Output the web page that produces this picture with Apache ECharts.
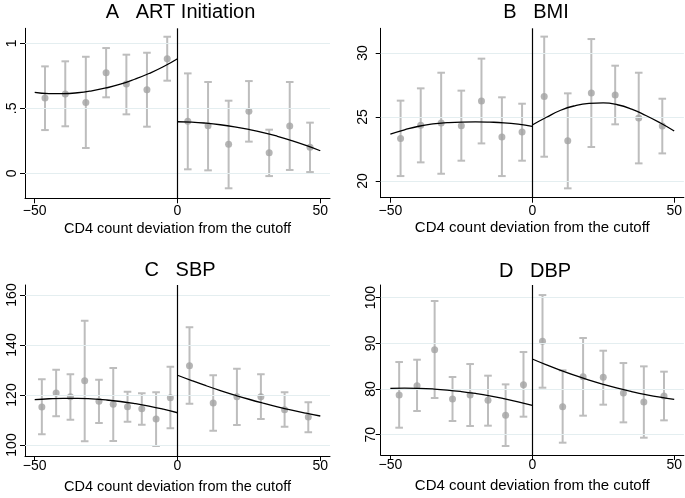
<!DOCTYPE html>
<html><head><meta charset="utf-8">
<script src="https://cdn.jsdelivr.net/npm/echarts@6/dist/echarts.min.js"></script>
<style>html,body{margin:0;padding:0;background:#fff}#c{width:685px;height:498px}</style>
</head><body><div id="c"></div>
<script>
// ---------- shared ----------
const cutoff = 0;
const xTicks = [-50, 0, 50];
const xTickLabels = ['\u221250', '0', '50'];
const xAxisTitle = 'CD4 count deviation from the cutoff';
const fitXLeft = [-50, -45, -40, -35, -30, -25, -20, -15, -10, -5, 0];
const fitXRight = [0, 5, 10, 15, 20, 25, 30, 35, 40, 45, 50];

// ---------- A: ART Initiation ----------
const titleA = 'A   ART Initiation';
const yTicksA = [0, 0.5, 1];
const yTickLabelsA = ['0', '.5', '1'];
const binsALeft = [-46.4, -39.3, -32.1, -25.0, -17.9, -10.7, -3.6];
const binsARight = [3.6, 10.7, 17.9, 25.0, 32.1, 39.3, 46.4];
const meanALeft = [0.579, 0.610, 0.546, 0.774, 0.687, 0.644, 0.882];
const loALeft = [0.333, 0.362, 0.195, 0.585, 0.454, 0.359, 0.713];
const hiALeft = [0.823, 0.862, 0.897, 0.964, 0.913, 0.928, 1.051];
const meanARight = [0.400, 0.367, 0.223, 0.477, 0.159, 0.364, 0.200];
const loARight = [0.031, 0.023, -0.115, 0.244, -0.021, 0.026, 0.010];
const hiARight = [0.769, 0.703, 0.559, 0.710, 0.336, 0.703, 0.390];
const fitALeft = [0.623, 0.614, 0.614, 0.620, 0.635, 0.657, 0.686, 0.724, 0.768, 0.820, 0.882];
const fitARight = [0.397, 0.394, 0.386, 0.374, 0.358, 0.338, 0.314, 0.285, 0.252, 0.215, 0.174];

// ---------- B: BMI ----------
const titleB = 'B   BMI';
const yTicksB = [20, 25, 30];
const yTickLabelsB = ['20', '25', '30'];
const binsBLeft = [-46.4, -39.3, -32.1, -25.0, -17.9, -10.7, -3.6];
const binsBRight = [4.2, 12.5, 20.8, 29.2, 37.5, 45.8];
const meanBLeft = [23.33, 24.35, 24.53, 24.32, 26.25, 23.44, 23.83];
const loBLeft = [20.39, 21.46, 20.57, 21.59, 22.94, 20.39, 21.59];
const hiBLeft = [26.28, 27.24, 28.46, 27.06, 29.56, 26.54, 26.04];
const meanBRight = [26.61, 23.15, 26.88, 26.72, 24.92, 24.30];
const loBRight = [21.90, 19.43, 22.66, 24.43, 21.38, 22.16];
const hiBRight = [31.28, 26.85, 31.09, 29.01, 28.46, 26.43];
const fitBLeft = [23.67, 24.00, 24.28, 24.46, 24.56, 24.61, 24.62, 24.60, 24.55, 24.44, 24.27];
const fitBRight = [24.38, 24.98, 25.53, 25.88, 26.06, 26.10, 25.96, 25.62, 25.12, 24.55, 23.91];

// ---------- C: SBP ----------
const titleC = 'C   SBP';
const yTicksC = [100, 120, 140, 160];
const yTickLabelsC = ['100', '120', '140', '160'];
const binsCLeft = [-47.5, -42.5, -37.5, -32.5, -27.5, -22.5, -17.5, -12.5, -7.5, -2.5];
const binsCRight = [4.2, 12.5, 20.8, 29.2, 37.5, 45.8];
const meanCLeft = [115.2, 120.8, 119.3, 125.7, 117.5, 116.3, 115.3, 114.5, 110.4, 118.9];
const loCLeft = [104.3, 111.5, 110.1, 101.5, 108.8, 101.6, 109.3, 108.1, 99.6, 106.7];
const hiCLeft = [126.3, 130.1, 128.3, 149.7, 126.1, 130.8, 121.3, 120.7, 121.1, 131.3];
const meanCRight = [131.7, 116.8, 119.3, 119.3, 114.1, 111.2];
const loCRight = [116.5, 105.7, 108.0, 110.4, 107.3, 105.1];
const hiCRight = [147.1, 127.9, 130.5, 128.3, 121.1, 117.1];
const fitCLeft = [118.12, 118.50, 118.68, 118.66, 118.44, 118.02, 117.40, 116.57, 115.55, 114.32, 112.9];
const fitCRight = [127.9, 125.75, 123.71, 121.79, 119.99, 118.30, 116.73, 115.27, 113.93, 112.71, 111.6];

// ---------- D: DBP ----------
const titleD = 'D   DBP';
const yTicksD = [70, 80, 90, 100];
const yTickLabelsD = ['70', '80', '90', '100'];
const binsDLeft = [-46.9, -40.6, -34.4, -28.1, -21.9, -15.6, -9.4, -3.1];
const binsDRight = [3.6, 10.7, 17.9, 25.0, 32.1, 39.3, 46.4];
const meanDLeft = [78.69, 80.73, 88.61, 77.81, 78.69, 77.52, 74.23, 80.95];
const loDLeft = [71.53, 75.18, 78.03, 72.99, 71.90, 71.97, 67.52, 73.94];
const hiDLeft = [85.91, 86.42, 99.27, 82.63, 85.47, 82.92, 81.02, 88.10];
const meanDRight = [90.44, 76.13, 82.70, 82.55, 79.12, 77.15, 78.47];
const loDRight = [80.29, 68.25, 74.16, 76.57, 72.70, 69.34, 73.14];
const hiDRight = [100.58, 84.09, 91.17, 88.39, 85.69, 84.96, 83.80];
const fitDLeft = [80.15, 80.20, 80.15, 80.01, 79.78, 79.45, 79.03, 78.52, 77.91, 77.21, 76.41];
const fitDRight = [86.57, 85.28, 84.08, 82.97, 81.95, 81.02, 80.18, 79.44, 78.78, 78.21, 77.74];

// ---------- build ----------
const FONT = 'Liberation Sans, Arial, Helvetica, sans-serif';
const zip = (a, b) => a.map((v, i) => [v, b[i]]);
const zip3 = (a, b, c) => a.map((v, i) => [v, b[i], c[i]]);

function errRender(params, api) {
  const x = api.value(0), lo = api.value(1), hi = api.value(2);
  const p1 = api.coord([x, lo]), p2 = api.coord([x, hi]);
  const hw = 3.8;
  const st = { stroke: '#bdbdbd', lineWidth: 2 };
  return { type: 'group', children: [
    { type: 'line', shape: { x1: p1[0], y1: p1[1], x2: p2[0], y2: p2[1] }, style: st },
    { type: 'line', shape: { x1: p1[0] - hw, y1: p1[1], x2: p1[0] + hw, y2: p1[1] }, style: st },
    { type: 'line', shape: { x1: p2[0] - hw, y1: p2[1], x2: p2[0] + hw, y2: p2[1] }, style: st }
  ]};
}

const panels = [
  { grid: { left: 25, top: 28.3, width: 305, height: 170 }, ymin: -0.192, ymax: 1.116,
    yTicks: yTicksA, yLabels: yTickLabelsA, ym: 6, xm: 6, nameSize: 14.5,
    bl: binsALeft, br: binsARight, ml: meanALeft, mr: meanARight, ll: loALeft, lr: loARight, hl: hiALeft, hr: hiARight,
    fl: fitALeft, fr: fitARight },
  { grid: { left: 380.7, top: 28.3, width: 304.3, height: 169.4 }, ymin: 18.70, ymax: 31.93,
    yTicks: yTicksB, yLabels: yTickLabelsB, ym: 11, xm: 6, nameSize: 15,
    bl: binsBLeft, br: binsBRight, ml: meanBLeft, mr: meanBRight, ll: loBLeft, lr: loBRight, hl: hiBLeft, hr: hiBRight,
    fl: fitBLeft, fr: fitBRight },
  { grid: { left: 25, top: 285, width: 305, height: 171 }, ymin: 95.6, ymax: 164,
    yTicks: yTicksC, yLabels: yTickLabelsC, ym: 6, xm: 3, nameSize: 14.5,
    bl: binsCLeft, br: binsCRight, ml: meanCLeft, mr: meanCRight, ll: loCLeft, lr: loCRight, hl: hiCLeft, hr: hiCRight,
    fl: fitCLeft, fr: fitCRight },
  { grid: { left: 380.7, top: 285, width: 304.3, height: 170 }, ymin: 65.55, ymax: 102.78,
    yTicks: yTicksD, yLabels: yTickLabelsD, ym: 3, xm: 3, nameSize: 15,
    bl: binsDLeft, br: binsDRight, ml: meanDLeft, mr: meanDRight, ll: loDLeft, lr: loDRight, hl: hiDLeft, hr: hiDRight,
    fl: fitDLeft, fr: fitDRight }
];

const option = { animation: false, backgroundColor: '#fff', grid: [], xAxis: [], yAxis: [], series: [],
  graphic: [] };

const titles = [[titleA, 180.5, 12], [titleB, 536, 12], [titleC, 180, 270.5], [titleD, 535, 271.5]];
titles.forEach(t => option.graphic.push({ type: 'text', x: t[1], y: t[2], silent: true,
  style: { text: t[0], font: '20px ' + FONT, fill: '#000', textAlign: 'center', textVerticalAlign: 'middle' } }));

const fitLine = (i, data, extra) => Object.assign({ type: 'line', xAxisIndex: i, yAxisIndex: i, z: 5,
  smooth: 0.5, showSymbol: false,
  lineStyle: { color: '#000', width: 1.3 }, data: data }, extra || {});

panels.forEach((p, i) => {
  option.grid.push(p.grid);
  option.xAxis.push({ type: 'value', gridIndex: i, min: -53.4, max: 53.4,
    name: xAxisTitle, nameLocation: 'middle', nameGap: 23,
    nameTextStyle: { fontFamily: FONT, fontSize: p.nameSize, color: '#000' },
    axisLine: { show: true, onZero: false, lineStyle: { color: '#000', width: 1 } },
    axisTick: { show: true, length: 5, customValues: xTicks, lineStyle: { color: '#000', width: 1 } },
    axisLabel: { customValues: xTicks, margin: p.xm, fontFamily: FONT, fontSize: 14, color: '#000',
      formatter: v => xTickLabels[xTicks.indexOf(v)] },
    splitLine: { show: false } });
  option.yAxis.push({ type: 'value', gridIndex: i, min: p.ymin, max: p.ymax,
    axisLine: { show: true, onZero: false, lineStyle: { color: '#000', width: 1 } },
    axisTick: { show: true, length: 5, customValues: p.yTicks, lineStyle: { color: '#000', width: 1 } },
    axisLabel: { customValues: p.yTicks, rotate: 90, margin: p.ym, fontFamily: FONT, fontSize: 14, color: '#000',
      formatter: v => p.yLabels[p.yTicks.indexOf(v)] },
    splitLine: { show: false } });
  // grid lines
  option.series.push({ type: 'line', xAxisIndex: i, yAxisIndex: i, data: [], z: 1, silent: true,
    markLine: { silent: true, symbol: 'none', label: { show: false }, animation: false,
      lineStyle: { color: '#e4eef0', width: 1.2, type: 'solid' },
      data: p.yTicks.map(v => ({ yAxis: v })) } });
  // error bars
  option.series.push({ type: 'custom', xAxisIndex: i, yAxisIndex: i, z: 3, silent: true,
    renderItem: errRender, encode: { x: 0, y: [1, 2] },
    data: zip3(p.bl, p.ll, p.hl).concat(zip3(p.br, p.lr, p.hr)) });
  // bin means
  option.series.push({ type: 'scatter', xAxisIndex: i, yAxisIndex: i, z: 4, symbolSize: 7,
    itemStyle: { color: '#a2a2a2' }, data: zip(p.bl, p.ml).concat(zip(p.br, p.mr)) });
  // fitted curves
  option.series.push(fitLine(i, zip(fitXLeft, p.fl)));
  option.series.push(fitLine(i, zip(fitXRight, p.fr), {
    markLine: { silent: true, symbol: 'none', label: { show: false }, animation: false,
      lineStyle: { color: '#000', width: 1.2, type: 'solid' }, data: [{ xAxis: cutoff }] } }));
});

const chart = echarts.init(document.getElementById('c'));
chart.setOption(option);
</script>
</body></html>
